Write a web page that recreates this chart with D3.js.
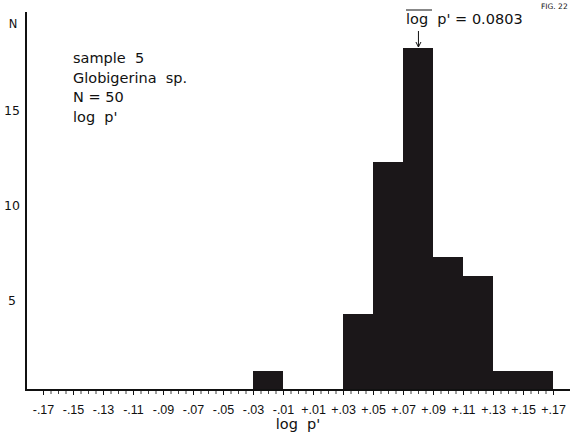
<!DOCTYPE html>
<html>
<head>
<meta charset="utf-8">
<script src="https://cdn.jsdelivr.net/npm/d3@7"></script>
<style>
  body { margin: 0; background: #fff; }
  svg { display: block; font-family: "DejaVu Sans", "Liberation Sans", sans-serif; }
  svg text { white-space: pre; }
  .axis path, .axis line { stroke: #111; }
  .axis text { fill: #111; font-size: 12.5px; }
  .note { fill: #111; font-size: 14.5px; }
</style>
</head>
<body>
<script>
// histogram bins of log p' (bin start, 0.02 wide) and counts
var binStarts = [-0.03, 0.03, 0.05, 0.07, 0.09, 0.11, 0.13, 0.15];
var counts    = [1, 4, 12, 18, 7, 6, 1, 1];
var binWidth = 0.02;
var tickVals = [-0.17, -0.15, -0.13, -0.11, -0.09, -0.07, -0.05, -0.03, -0.01,
                0.01, 0.03, 0.05, 0.07, 0.09, 0.11, 0.13, 0.15, 0.17];
var tickLabels = ["-.17", "-.15", "-.13", "-.11", "-.09", "-.07", "-.05", "-.03", "-.01",
                  "+.01", "+.03", "+.05", "+.07", "+.09", "+.11", "+.13", "+.15", "+.17"];
var yTicks = [5, 10, 15];
var meanLog = 0.0803;

var W = 570, H = 433;
var svg = d3.select("body").append("svg").attr("width", W).attr("height", H);

var x = d3.scaleLinear().domain([-0.17, 0.17]).range([43, 553]);
var y = d3.scaleLinear().domain([0, 15]).range([390, 105]);

// bars
svg.selectAll("rect.bar")
  .data(counts)
  .enter().append("rect")
    .attr("class", "bar")
    .attr("x", function(d, i) { return x(binStarts[i]); })
    .attr("width", function(d, i) { return x(binStarts[i] + binWidth) - x(binStarts[i]); })
    .attr("y", function(d) { return y(d); })
    .attr("height", function(d) { return y(0) - y(d); })
    .attr("fill", "#1b1719");

// minor ticks every .005
var minor = d3.range(-170, 171, 5).map(function(v) { return v / 1000; });
svg.append("g").attr("class", "axis")
  .attr("transform", "translate(0,390)")
  .call(d3.axisBottom(x).tickValues(minor).tickSize(4).tickFormat(""))
  .call(function(g) { g.select(".domain").remove(); })
  .selectAll("line").attr("stroke-width", 0.8);

// major ticks + labels
svg.append("g").attr("class", "axis")
  .attr("transform", "translate(0,390)")
  .call(d3.axisBottom(x).tickValues(tickVals).tickSize(5).tickPadding(10)
    .tickFormat(function(d, i) { return tickLabels[i]; }))
  .call(function(g) { g.select(".domain").remove(); });

// x axis baseline spans to the page edge
svg.append("line")
  .attr("x1", 26).attr("x2", W).attr("y1", 390).attr("y2", 390)
  .attr("stroke", "#111").attr("stroke-width", 2);

// y axis
svg.append("line")
  .attr("x1", 26).attr("x2", 26).attr("y1", 12).attr("y2", 391)
  .attr("stroke", "#111").attr("stroke-width", 2);

svg.selectAll("text.ytick")
  .data(yTicks)
  .enter().append("text")
    .attr("class", "note")
    .attr("x", 12).attr("y", function(d) { return y(d) + 10; })
    .attr("text-anchor", "middle")
    .style("font-size", "12.5px")
    .text(function(d) { return d; });

svg.append("text").attr("class", "note")
  .attr("x", 13).attr("y", 28).attr("text-anchor", "middle")
  .style("font-size", "11.5px").text("N");

// sample notes
var notes = ["sample  5", "Globigerina  sp.", "N = 50", "log  p'"];
svg.selectAll("text.sn")
  .data(notes)
  .enter().append("text")
    .attr("class", "note")
    .attr("x", 73).attr("y", function(d, i) { return 63 + i * 19.5; })
    .text(function(d) { return d; });

// x label
svg.append("text").attr("class", "note")
  .attr("x", x(0)).attr("y", 429).attr("text-anchor", "middle")
  .text("log  p'");

// mean annotation
var mx = x(meanLog);
svg.append("text").attr("class", "note")
  .attr("x", 406).attr("y", 24)
  .text("log  p' = 0.0803");
svg.append("line")
  .attr("x1", 406).attr("x2", 432).attr("y1", 10).attr("y2", 10)
  .attr("stroke", "#111").attr("stroke-width", 1);
svg.append("line")
  .attr("x1", mx).attr("x2", mx).attr("y1", 31).attr("y2", y(18) - 1)
  .attr("stroke", "#111").attr("stroke-width", 1);
svg.append("path")
  .attr("d", "M" + (mx - 2.5) + "," + (y(18) - 6) + "L" + mx + "," + (y(18) - 1) + "L" + (mx + 2.5) + "," + (y(18) - 6))
  .attr("fill", "none").attr("stroke", "#111").attr("stroke-width", 1);

svg.append("text").attr("class", "note")
  .attr("x", 541).attr("y", 9).style("font-size", "7.5px")
  .text("FIG. 22");
</script>
</body>
</html>
